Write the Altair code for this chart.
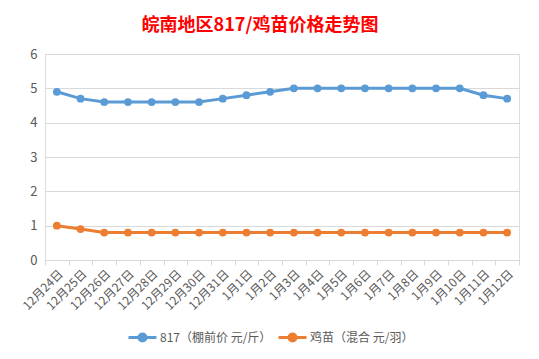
import altair as alt
import pandas as pd

dates = ["12月24日", "12月25日", "12月26日", "12月27日", "12月28日", "12月29日", "12月30日",
         "12月31日", "1月1日", "1月2日", "1月3日", "1月4日", "1月5日", "1月6日", "1月7日",
         "1月8日", "1月9日", "1月10日", "1月11日", "1月12日"]
s1_name = "817（棚前价 元/斤）"
s2_name = "鸡苗（混合 元/羽）"
s1 = [4.9, 4.7, 4.6, 4.6, 4.6, 4.6, 4.6, 4.7, 4.8, 4.9, 5.0, 5.0, 5.0, 5.0, 5.0, 5.0, 5.0, 5.0, 4.8, 4.7]
s2 = [1.0, 0.9, 0.8, 0.8, 0.8, 0.8, 0.8, 0.8, 0.8, 0.8, 0.8, 0.8, 0.8, 0.8, 0.8, 0.8, 0.8, 0.8, 0.8, 0.8]

rows = []
for d, a, b in zip(dates, s1, s2):
    rows.append({"date": d, "series": s1_name, "value": a})
    rows.append({"date": d, "series": s2_name, "value": b})
df = pd.DataFrame(rows)

FONT = "Noto Sans CJK SC"
GRAY = "#595959"

x = alt.X("date:N", sort=dates, title=None,
          scale=alt.Scale(type="band", paddingInner=0, paddingOuter=0),
          axis=alt.Axis(labelAngle=-45, labelFontSize=12, labelColor=GRAY, labelFont=FONT,
                        domainColor="#D9D9D9", tickColor="#D9D9D9", tickSize=5,
                        tickBand="extent", grid=False, labelPadding=3))
y = alt.Y("value:Q", title=None,
          scale=alt.Scale(domain=[0, 6], nice=False),
          axis=alt.Axis(values=[0, 1, 2, 3, 4, 5, 6], labelFontSize=13, labelColor=GRAY, labelFont=FONT,
                        domain=False, ticks=False, labelPadding=8, gridColor="#D9D9D9"))
color = alt.Color("series:N", sort=[s1_name, s2_name], title=None,
                  scale=alt.Scale(domain=[s1_name, s2_name], range=["#5B9BD5", "#ED7D31"]),
                  legend=alt.Legend(orient="none", direction="horizontal", legendX=82, legendY=268,
                                    labelFontSize=12, labelColor=GRAY, labelFont=FONT,
                                    symbolType="M-1,0H1M-0.25,0A0.25,0.25,0,1,1,0.25,0A0.25,0.25,0,1,1,-0.25,0",
                                    symbolSize=784, symbolStrokeWidth=3, columnPadding=0, labelOffset=2))

base = alt.Chart(df).encode(x=x, y=y, color=color)
line = base.mark_line(strokeWidth=3)
pts = base.mark_point(filled=True, size=60, opacity=1)

chart = (line + pts).properties(
    width=474, height=206,
    title=alt.TitleParams("皖南地区817/鸡苗价格走势图", color="#FF0000", fontSize=18, fontWeight="bold",
                          font=FONT, anchor="middle", offset=13, dx=-22),
    autosize=alt.AutoSizeParams(type="none"),
    padding={"left": 37, "top": 46, "right": 12, "bottom": 91},
).configure_view(stroke=None).configure(background="white")

chart.save("out.html", embed_options={"renderer": "svg", "actions": False})
